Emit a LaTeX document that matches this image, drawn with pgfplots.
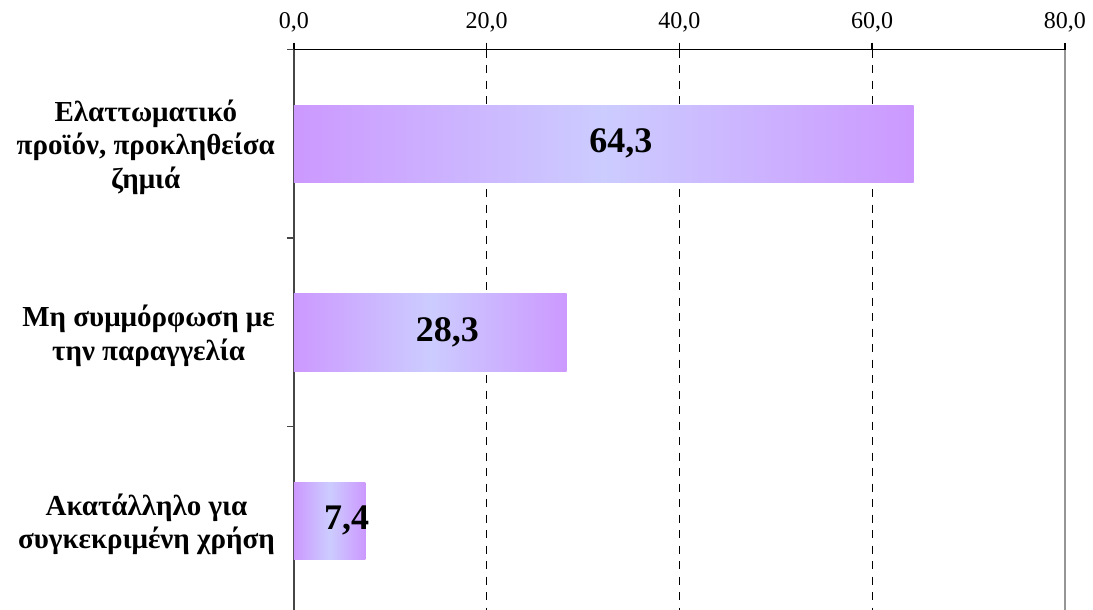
\documentclass[border=0pt]{standalone}
\usepackage{pgfplots}
\pgfplotsset{compat=1.18}
\usepackage{pgfplotstable}
\usepackage{fontspec}
\setmainfont{Liberation Serif}

\definecolor{barpurple}{RGB}{204,153,255}
\definecolor{barlav}{RGB}{204,204,255}
\definecolor{leftaxis}{RGB}{70,70,70}
\definecolor{rightaxis}{RGB}{150,150,150}

\pgfplotsset{
  barshade/.style={xbar, bar width=77.5pt, draw=none,
    left color=barpurple, right color=barpurple, middle color=barlav},
}

% category index and share (%)
\pgfplotstableread{
y v
0 64.3
1 28.3
2 7.4
}\causes

\begin{document}
\begin{tikzpicture}
\begin{axis}[
  at={(0pt,0pt)}, anchor=north west,
  scale only axis,
  width=771pt, height=565.5pt,
  xmin=0, xmax=80,
  ymin=-0.5, ymax=2.5,
  y dir=reverse,
  axis x line*=top,
  axis y line*=left,
  every outer x axis line/.append style={-},
  every outer y axis line/.append style={-},
  every inner x axis line/.append style={-},
  every inner y axis line/.append style={-},
  x axis line style={black, line width=1.5pt},
  y axis line style={leftaxis, line width=1.5pt},
  tick align=outside,
  major tick length=7pt,
  xtick={0,20,40,60},
  extra x ticks={80},
  extra x tick style={grid=major, major grid style={solid, rightaxis, line width=2pt, dash pattern=on 1000pt off 0pt}},
  xmajorgrids,
  major grid style={black, line width=1pt, dash pattern=on 8pt off 7.5pt},
  x tick style={black, line width=1.5pt},
  y tick style={leftaxis, line width=1.5pt},
  xticklabel style={font=\fontsize{24}{27}\selectfont, inner sep=0pt, yshift=10pt},
  /pgf/number format/fixed,
  /pgf/number format/fixed zerofill,
  /pgf/number format/precision=1,
  /pgf/number format/use comma,
  /pgf/number format/assume math mode=true,
  ytick={-0.5,0.5,1.5,2.5},
  yticklabels={,,,},
  extra y ticks={0,1,2},
  extra y tick labels={{Ελαττωματικό\\προϊόν, προκληθείσα\\ζημιά},{Μη συμμόρφωση με\\την παραγγελία},{Ακατάλληλο για\\συγκεκριμένη χρήση}},
  extra y tick style={major tick length=0pt},
  yticklabel style={align=center, font=\fontsize{29}{33.5}\selectfont\bfseries, inner sep=0pt, xshift=-19pt, yshift=-3.5pt},
  clip=false,
]
% one plot per bar so that each bar carries its own gradient
\addplot[barshade] table[x=v, y=y, skip coords between index={1}{3}] {\causes};
\addplot[barshade] table[x=v, y=y, skip coords between index={0}{1},
  skip coords between index={2}{3}] {\causes};
\addplot[barshade] table[x=v, y=y, skip coords between index={0}{2}] {\causes};
% value labels inside the bars
\addplot[draw=none, mark=none, point meta=explicit,
  nodes near coords={\pgfmathprintnumber[fixed, fixed zerofill, precision=1, use comma, assume math mode=true]{\pgfplotspointmeta}},
  nodes near coords style={anchor=center, xshift=17pt, text=black,
    font=\fontsize{36}{42}\selectfont\bfseries}]
  table[x expr=\thisrow{v}/2, y=y, meta=v] {\causes};
\end{axis}
\pgfresetboundingbox
\path[use as bounding box] (-294pt,49.5pt) rectangle (799pt,-560.5pt);
\end{tikzpicture}
\end{document}
